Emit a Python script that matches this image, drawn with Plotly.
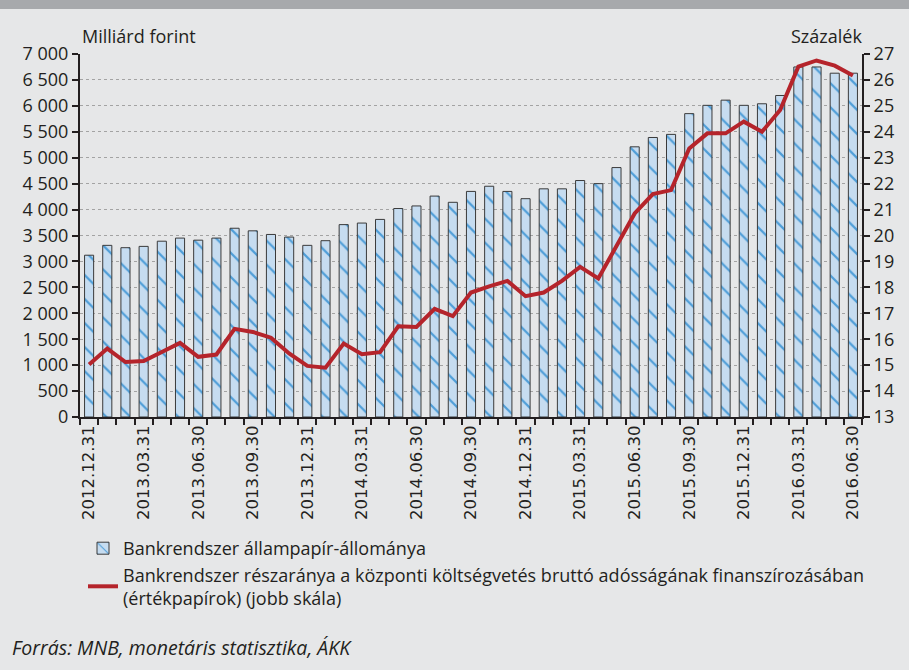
import plotly.graph_objects as go

categories = [
    "2012.12.31", "2013.01.31", "2013.02.28", "2013.03.31", "2013.04.30", "2013.05.31",
    "2013.06.30", "2013.07.31", "2013.08.31", "2013.09.30", "2013.10.31", "2013.11.30",
    "2013.12.31", "2014.01.31", "2014.02.28", "2014.03.31", "2014.04.30", "2014.05.31",
    "2014.06.30", "2014.07.31", "2014.08.31", "2014.09.30", "2014.10.31", "2014.11.30",
    "2014.12.31", "2015.01.31", "2015.02.28", "2015.03.31", "2015.04.30", "2015.05.31",
    "2015.06.30", "2015.07.31", "2015.08.31", "2015.09.30", "2015.10.31", "2015.11.30",
    "2015.12.31", "2016.01.31", "2016.02.29", "2016.03.31", "2016.04.30", "2016.05.31",
    "2016.06.30",
]

holdings = [
    3120, 3310, 3265, 3290, 3390, 3450, 3410, 3450, 3640, 3590, 3520, 3470,
    3310, 3400, 3710, 3740, 3810, 4020, 4070, 4260, 4140, 4350, 4450, 4350,
    4210, 4400, 4400, 4560, 4500, 4810, 5210, 5390, 5450, 5850, 6010, 6110,
    6010, 6040, 6200, 6750, 6750, 6630, 6630,
]

share = [
    15.02, 15.64, 15.12, 15.16, 15.51, 15.86, 15.32, 15.41, 16.40, 16.28, 16.06, 15.45,
    14.97, 14.90, 15.83, 15.42, 15.50, 16.50, 16.47, 17.17, 16.89, 17.80, 18.04, 18.25,
    17.66, 17.80, 18.25, 18.79, 18.34, 19.56, 20.85, 21.60, 21.75, 23.36, 23.94, 23.94,
    24.39, 24.00, 24.84, 26.51, 26.75, 26.55, 26.17,
]

left_ticks = [0, 500, 1000, 1500, 2000, 2500, 3000, 3500, 4000, 4500, 5000, 5500, 6000, 6500, 7000]
left_tick_text = ["0", "500", "1 000", "1 500", "2 000", "2 500", "3 000", "3 500",
                  "4 000", "4 500", "5 000", "5 500", "6 000", "6 500", "7 000"]
right_ticks = list(range(13, 28))

label_every = 3
x_tick_text = [c if i % label_every == 0 else "" for i, c in enumerate(categories)]

bar_name = "Bankrendszer állampapír-állománya"
line_name = ("Bankrendszer részaránya a központi költségvetés bruttó adósságának finanszírozásában"
             "<br>(értékpapírok) (jobb skála)")

DARK = "#231f20"
BG = "#e6e7e8"
TXT = "Open Sans"
FS = 18

fig = go.Figure()
fig.add_trace(go.Bar(
    x=categories, y=holdings, name=bar_name,
    marker=dict(
        color="#c6dcf0",
        line=dict(color="#3a3a3a", width=1),
        pattern=dict(shape="\\", fgcolor="#4f9ed8", bgcolor="#c6dcf0", size=17,
                     solidity=0.13, fillmode="replace"),
    ),
    width=0.5,
    yaxis="y",
))
fig.add_trace(go.Scatter(
    x=categories, y=share, name=line_name, mode="lines",
    line=dict(color="#b5242b", width=4),
    yaxis="y2",
))

fig.update_layout(
    width=909, height=670,
    margin=dict(l=80, r=47, t=54, b=253),
    paper_bgcolor=BG, plot_bgcolor=BG,
    font=dict(family=TXT, size=FS, color=DARK),
    showlegend=True,
    legend=dict(
        x=3 / 782, y=-(530 - 417) / 363, xanchor="left", yanchor="top",
        bgcolor="rgba(0,0,0,0)", font=dict(family=TXT, size=FS, color=DARK),
        tracegroupgap=0, itemwidth=30,
    ),
    xaxis=dict(
        type="category", range=[-0.5, len(categories) - 0.5],
        tickvals=categories, ticktext=x_tick_text, tickangle=-90,
        tickson="boundaries", ticks="outside", ticklen=6, tickwidth=2, tickcolor=DARK,
        showline=True, linecolor=DARK, linewidth=2, showgrid=False,
        tickfont=dict(family="DejaVu Sans", size=16.5, color=DARK),
    ),
    yaxis=dict(
        range=[0, 7000], tickvals=left_ticks, ticktext=left_tick_text,
        ticks="outside", ticklen=6, tickwidth=2, tickcolor=DARK,
        showline=True, linecolor=DARK, linewidth=2,
        showgrid=True, gridcolor="#a3a3a3", griddash="dot", gridwidth=1,
        zeroline=False, tickfont=dict(family=TXT, size=FS, color=DARK),
    ),
    yaxis2=dict(
        range=[13, 27], tickvals=right_ticks, overlaying="y", side="right",
        ticks="outside", ticklen=6, tickwidth=2, tickcolor=DARK,
        showline=True, linecolor=DARK, linewidth=2, showgrid=False, zeroline=False,
        tickfont=dict(family=TXT, size=FS, color=DARK),
    ),
    bargap=0.5,
    shapes=[dict(type="rect", xref="paper", yref="paper", x0=-0.2, x1=1.2,
                 y0=1 + (54 - 9) / 363, y1=1 + 54 / 363 + 0.01,
                 fillcolor="#a7a9ac", line=dict(width=0), layer="above")],
    annotations=[
        dict(text="Milliárd forint", xref="paper", yref="paper", x=0, y=1 + 18 / 363,
             xanchor="left", yanchor="middle", showarrow=False,
             font=dict(family=TXT, size=FS, color=DARK)),
        dict(text="Százalék", xref="paper", yref="paper", x=1.003, y=1 + 18 / 363,
             xanchor="right", yanchor="middle", showarrow=False,
             font=dict(family=TXT, size=FS, color=DARK)),
        dict(text="<i>Forrás: MNB, monetáris statisztika, ÁKK</i>", xref="paper", yref="paper",
             x=-70 / 782, y=-(647 - 417) / 363, xanchor="left", yanchor="middle",
             showarrow=False, font=dict(family=TXT, size=19.5, color=DARK)),
    ],
)

fig.write_html(
    "out.html",
    config={"displayModeBar": False},
    post_script="document.body.style.margin='0';document.body.style.background='#e6e7e8';",
)
